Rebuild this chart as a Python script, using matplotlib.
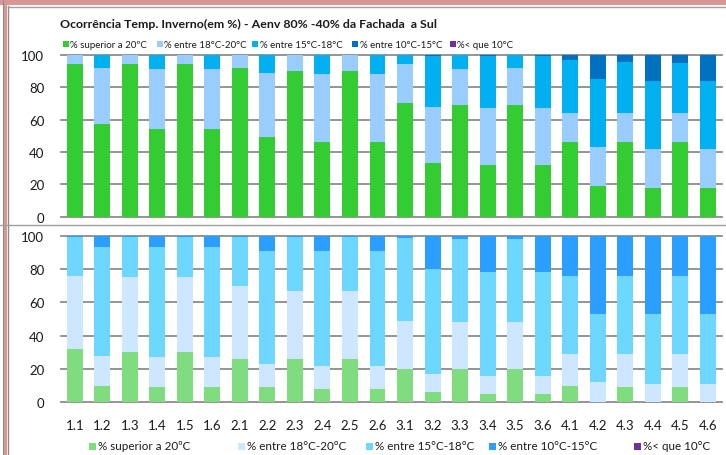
import matplotlib
matplotlib.use("Agg")
import matplotlib.pyplot as plt
from matplotlib.patches import Rectangle
from matplotlib.lines import Line2D
import numpy as np

plt.rcParams['font.family'] = ['Lato', 'DejaVu Sans']

categories = ['1.1', '1.2', '1.3', '1.4', '1.5', '1.6',
              '2.1', '2.2', '2.3', '2.4', '2.5', '2.6',
              '3.1', '3.2', '3.3', '3.4', '3.5', '3.6',
              '4.1', '4.2', '4.3', '4.4', '4.5', '4.6']

series_names = ['% superior a 20ºC', '% entre 18°C-20°C', '% entre 15°C-18°C',
                '% entre 10°C-15°C', '%< que 10°C']

# Top chart (Aenv 80% -40% da Fachada a Sul)
top_above20 = [94, 57, 94, 54, 94, 54, 92, 49, 90, 46, 90, 46, 70, 33, 69, 32, 69, 32, 46, 19, 46, 18, 46, 18]
top_18_20 = [6, 35, 6, 37, 6, 37, 8, 40, 10, 42, 10, 42, 24, 35, 22, 35, 23, 35, 18, 24, 18, 24, 18, 24]
top_15_18 = [0, 8, 0, 9, 0, 9, 0, 11, 0, 12, 0, 12, 6, 31.5, 9, 32, 8, 32, 33, 42, 31.5, 42, 31, 42]
top_10_15 = [0, 0, 0, 0, 0, 0, 0, 0, 0, 0, 0, 0, 0, 0.5, 0, 1, 0, 1, 3, 15, 4.5, 16, 5, 16]
top_below10 = [0] * 24

# Bottom chart
bot_above20 = [32, 10, 30, 9, 30, 9, 26, 9, 26, 8, 26, 8, 20, 6, 20, 5, 20, 5, 10, 0, 9, 0, 9, 0]
bot_18_20 = [44, 18, 45, 18, 45, 18, 44, 14, 41, 14, 41, 14, 29, 11, 28, 11, 28, 11, 19, 12, 20, 11, 20, 11]
bot_15_18 = [23.5, 65, 24.5, 66, 24.5, 66, 29.5, 68, 32.5, 69, 32.5, 69, 49.5, 63, 50, 62, 50, 62, 47, 41, 47, 42, 47, 42]
bot_10_15 = [0.5, 7, 0.5, 7, 0.5, 7, 0.5, 9, 0.5, 9, 0.5, 9, 1.5, 20, 2, 22, 2, 22, 24, 47, 24, 47, 24, 47]
bot_below10 = [0] * 24

yticks = [0, 20, 40, 60, 80, 100]

top_colors = ['#33CC33', '#99CCFF', '#00B0F0', '#0070C0', '#7030A0']
bot_colors = ['#7FDD7F', '#CCE7FF', '#6DD7FF', '#2B9FFF', '#7030A0']

W, H = 726, 456
fig = plt.figure(figsize=(W / 100, H / 100), dpi=100)
fig.patch.set_facecolor('white')

def px_axes(x0, y0, x1, y1):
    return fig.add_axes([x0 / W, 1 - y1 / H, (x1 - x0) / W, (y1 - y0) / H])

# decorative frame
pink = '#D99694'
fig.patches.append(Rectangle((0, 1 - 6 / H), 1, 6 / H, transform=fig.transFigure,
                             facecolor=pink, edgecolor='none', zorder=0))
fig.patches.append(Rectangle((3.5 / W, 0), 3.5 / W, 1, transform=fig.transFigure,
                             facecolor=pink, edgecolor='none', zorder=0))
gray_f = '#8C8C8C'
fig.lines.append(Line2D([3 / W, 3 / W], [0, 1], transform=fig.transFigure, color=gray_f, lw=0.8))
fig.lines.append(Line2D([8 / W, 8 / W], [0, 1 - 7 / H], transform=fig.transFigure, color=gray_f, lw=1.0))
fig.lines.append(Line2D([8 / W, 1], [1 - 7.5 / H, 1 - 7.5 / H], transform=fig.transFigure, color='#A0A0A0', lw=1.0))
fig.lines.append(Line2D([0, 1], [1 - 226 / H, 1 - 226 / H], transform=fig.transFigure, color='#A0A0A0', lw=1.0))

x = np.arange(len(categories))

def draw(ax, data, colors, show_x):
    bottom = np.zeros(len(categories))
    for vals, c in zip(data, colors):
        v = np.array(vals, dtype=float)
        ax.bar(x, v, width=0.58, bottom=bottom, color=c, linewidth=0, zorder=3)
        bottom += v
    ax.set_xlim(-0.5, len(categories) - 0.5)
    ax.set_ylim(0, 100)
    ax.set_yticks(yticks)
    ax.set_yticklabels([str(t) for t in yticks], fontsize=9.5, color='#1a1a1a')
    for t in yticks:
        ax.axhline(t, color='#8C8C8C', lw=1.3, zorder=1, clip_on=False)
    for s in ax.spines.values():
        s.set_visible(False)
    ax.tick_params(axis='y', length=0, pad=12)
    ax.set_xticks(x)
    if show_x:
        ax.set_xticklabels(categories, fontsize=9.5, color='#1a1a1a')
        ax.tick_params(axis='x', length=0, pad=12)
    else:
        ax.set_xticklabels([])
        ax.tick_params(axis='x', length=0)
    ax.set_facecolor('none')

ax1 = px_axes(61, 55.7, 721.5, 217.7)
draw(ax1, [top_above20, top_18_20, top_15_18, top_10_15, top_below10], top_colors, False)

ax2 = px_axes(61, 236.7, 721.5, 403.3)
draw(ax2, [bot_above20, bot_18_20, bot_15_18, bot_10_15, bot_below10], bot_colors, True)

fig.text(248 / W, 1 - 24 / H, 'Ocorrência Temp. Inverno(em %) - Aenv 80% -40% da Fachada  a Sul',
         ha='center', va='center', fontsize=8.9, fontweight='bold', color='#1a1a1a')

def legend_row(xs, yc, colors, size_px, fontsize):
    for xs_, c, name in zip(xs, colors, series_names):
        fig.patches.append(Rectangle((xs_ / W, 1 - (yc + size_px / 2) / H), size_px / W, size_px / H,
                                     transform=fig.transFigure, facecolor=c, edgecolor='none'))
        fig.text((xs_ + size_px + 2) / W, 1 - yc / H, name, ha='left', va='center',
                 fontsize=fontsize, color='#1a1a1a')

legend_row([63, 157, 252, 352, 450], 45, top_colors, 5.5, 7)
legend_row([89, 238, 366, 489, 634], 447, bot_colors, 7, 8.4)

fig.savefig('out.png', dpi=100)
